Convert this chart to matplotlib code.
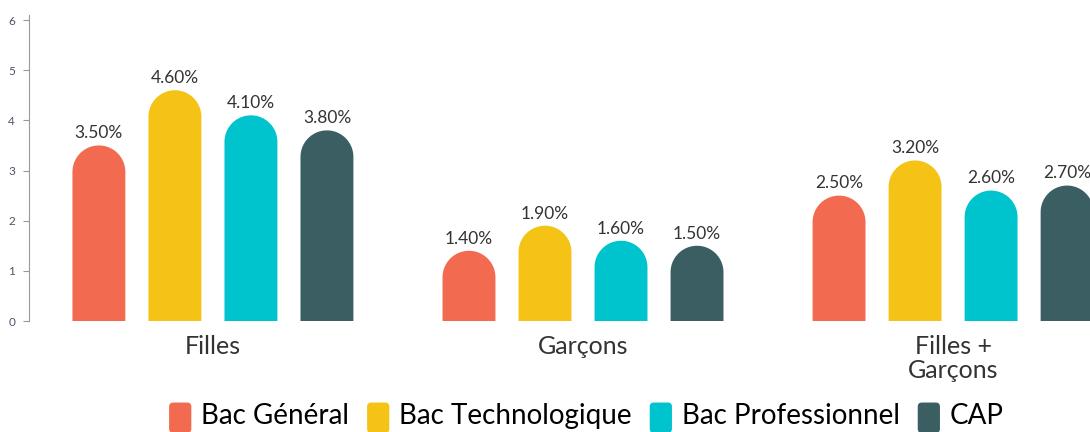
import matplotlib.pyplot as plt
from matplotlib.patches import PathPatch, FancyBboxPatch, Patch
from matplotlib.path import Path
from matplotlib.legend_handler import HandlerPatch
import numpy as np

plt.rcParams['font.family'] = ['Lato', 'DejaVu Sans']

# Data
groups = ['Filles', 'Garçons', 'Filles +\nGarçons']
series = ['Bac Général', 'Bac Technologique', 'Bac Professionnel', 'CAP']
bac_general = [3.5, 1.4, 2.5]
bac_techno = [4.6, 1.9, 3.2]
bac_pro = [4.1, 1.6, 2.6]
cap = [3.8, 1.5, 2.7]
colors = ['#F26B50', '#F4C315', '#00C4CD', '#3B5E62']
values = [bac_general, bac_techno, bac_pro, cap]

W, H, DPI = 10.9, 4.32, 100
fig = plt.figure(figsize=(W, H), dpi=DPI)
ax = fig.add_axes([29 / 1090, 111 / 432, 1 - 29 / 1090, 306 / 432])

ymax = 6.1
xmin, xmax = -0.497, 2.37
ax.set_xlim(xmin, xmax)
ax.set_ylim(0, ymax)

offsets = np.array([-1.5, -0.5, 0.5, 1.5]) * 0.2054
bw = 0.143

# pixel scale so the rounded tops come out circular
ax_w_px = (1 - 29 / 1090) * W * DPI
ax_h_px = 306 / 432 * H * DPI
px_per_x = ax_w_px / (xmax - xmin)
px_per_y = ax_h_px / ymax
ry = (bw / 2) * px_per_x / px_per_y
theta = np.linspace(0, np.pi, 40)


def rounded_bar(xc, v):
    rx = bw / 2
    arc = np.column_stack([xc + rx * np.cos(theta), v - ry + ry * np.sin(theta)])
    pts = np.vstack([[xc + rx, 0], arc, [xc - rx, 0], [xc + rx, 0]])
    codes = [Path.MOVETO] + [Path.LINETO] * (len(pts) - 2) + [Path.CLOSEPOLY]
    return Path(pts, codes)


x = np.arange(len(groups))
for vals, off, col in zip(values, offsets, colors):
    for xi, v in zip(x + off, vals):
        ax.add_patch(PathPatch(rounded_bar(xi, v), facecolor=col, lw=0))
        ax.annotate(f'{v:.2f}%', (xi, v), xytext=(0, 3), textcoords='offset points',
                    ha='center', va='bottom', fontsize=12.5, color='#333333')

ax.set_xticks(x)
ax.set_xticklabels(groups, fontsize=18, color='#333333', linespacing=1.05)
ax.tick_params(axis='x', length=0, pad=10)
ax.set_yticks(range(0, 7))
ax.tick_params(axis='y', labelsize=8.5, labelcolor='#4A5566', color='#999999',
               length=4, width=0.8, pad=6)

for s in ['top', 'right', 'bottom']:
    ax.spines[s].set_visible(False)
ax.spines['left'].set_color('#999999')
ax.spines['left'].set_linewidth(0.8)


class RoundHandler(HandlerPatch):
    def create_artists(self, legend, orig_handle, xdescent, ydescent,
                       width, height, fontsize, trans):
        p = FancyBboxPatch((-xdescent + 2, -ydescent - 4), width - 4, height + 4,
                           boxstyle='round,pad=0,rounding_size=3',
                           facecolor=orig_handle.get_facecolor(), lw=0,
                           transform=trans)
        return [p]


handles = [Patch(facecolor=c) for c in colors]
fig.legend(handles, series, loc='center', bbox_to_anchor=(585 / 1090, 16 / 432),
           ncol=4, frameon=False, fontsize=20, handlelength=1.0, handleheight=1.0,
           handletextpad=0.25, columnspacing=0.55, borderpad=0,
           handler_map={Patch: RoundHandler()})

fig.savefig('out.png', dpi=DPI)
